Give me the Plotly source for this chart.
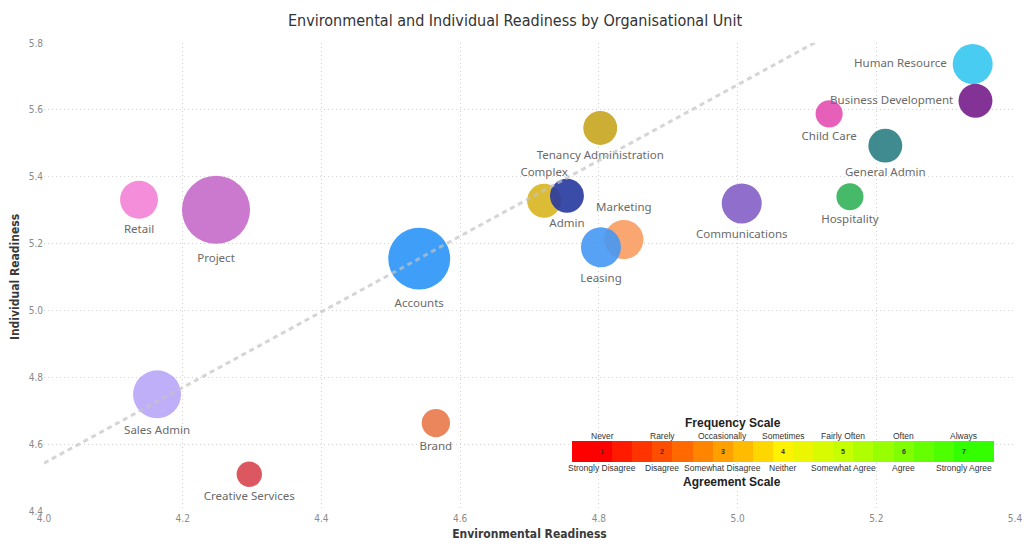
import plotly.graph_objects as go

# ---------------- data ----------------
units = ["Human Resource", "Business Development", "Child Care", "General Admin",
         "Hospitality", "Communications", "Tenancy Administration", "Complex",
         "Admin", "Marketing", "Leasing", "Accounts", "Project", "Retail",
         "Sales Admin", "Brand", "Creative Services"]
env_readiness = [5.339, 5.343, 5.132, 5.213, 5.162, 5.006, 4.802, 4.721,
                 4.754, 4.836, 4.803, 4.541, 4.248, 4.137, 4.163, 4.565, 4.296]
ind_readiness = [5.737, 5.627, 5.588, 5.493, 5.340, 5.320, 5.546, 5.328,
                 5.343, 5.212, 5.189, 5.155, 5.301, 5.331, 4.749, 4.663, 4.510]
respondents = [50, 36, 23, 36, 23, 50, 36, 36, 36, 48, 50, 120, 145, 45, 72, 25, 20]
unit_colors = ["#35C7F1", "#751C8A", "#E34FB2", "#2B7E84", "#33B25A", "#845EC6",
               "#C8A51E", "#D9B51F", "#26379F", "#F99C62", "#4598F3", "#2A94F6",
               "#C46AC9", "#F482D6", "#B8A6F8", "#E8784A", "#D8464F"]
label_pos = ["middle left", "middle left", "bottom center", "bottom center",
             "bottom center", "bottom center", "bottom center", "top center",
             "bottom center", "top center", "bottom center", "bottom center",
             "bottom center", "bottom center", "bottom center", "bottom center",
             "bottom center"]

# trend line (value at x=4.0 and slope)
trend_intercept = 4.543
trend_slope = 1.132
trend_x = [4.0, 5.4]

# legend scale
freq_labels = ["Never", "Rarely", "Occasionally", "Sometimes", "Fairly Often", "Often", "Always"]
agree_labels = ["Strongly Disagree", "Disagree", "Somewhat Disagree", "Neither",
                "Somewhat Agree", "Agree", "Strongly Agree"]
scale_numbers = ["1", "2", "3", "4", "5", "6", "7"]
scale_colors = ["#FF0000", "#FF4E00", "#FFA000", "#FFF200", "#C6FF00", "#80FF00", "#33FF00"]

x_ticks = [4.0, 4.2, 4.4, 4.6, 4.8, 5.0, 5.2, 5.4]
y_ticks = [4.4, 4.6, 4.8, 5.0, 5.2, 5.4, 5.6, 5.8]

# ---------------- figure ----------------
W, H = 1024, 554

fig = go.Figure()

fig.add_trace(go.Scatter(
    x=env_readiness, y=ind_readiness, mode="markers+text",
    text=units, textposition=label_pos,
    textfont=dict(family="Noto Sans, Open Sans, sans-serif", size=11.5, color="#6a6a6a"),
    marker=dict(size=respondents, sizemode="area", sizeref=1 / 16,
                color=unit_colors, opacity=0.9, line=dict(width=0)),
    cliponaxis=False, hoverinfo="skip", showlegend=False))

trend_y = [trend_intercept + trend_slope * (v - 4.0) for v in trend_x]
fig.add_trace(go.Scatter(
    x=trend_x, y=trend_y, mode="lines",
    line=dict(color="rgba(195,195,195,0.7)", width=3, dash="5px,4px"),
    hoverinfo="skip", showlegend=False))

# colour scale legend as a heatmap on its own axes
n_cells = 3 * len(scale_colors)
cs = [[0.0, scale_colors[0]]]
for k, c in enumerate(scale_colors):
    cs.append([(3 * k + 1) / (n_cells - 1), c])
cs.append([1.0, scale_colors[-1]])
fig.add_trace(go.Heatmap(
    z=[list(range(n_cells))], x=[i + 0.5 for i in range(n_cells)], y=[0.5],
    colorscale=cs, showscale=False, xaxis="x2", yaxis="y2", hoverinfo="skip",
    zmin=0, zmax=n_cells - 1))

grid = dict(showgrid=True, gridcolor="#d4d4d4", griddash="1px,3px", gridwidth=1,
            zeroline=False, showline=False, ticks="", automargin=False,
            ticklabeloverflow="allow")
tickfont = dict(family="DejaVu Sans Condensed, Roboto, sans-serif", size=10, color="#8a8a8a")
titlefont = dict(family="DejaVu Sans Condensed, Roboto, sans-serif", size=12, color="#3a3a3a")

PLOT_L, PLOT_R, PLOT_T, PLOT_B = 44, 1015, 43, 511  # pixels of plot area
PW, PH = PLOT_R - PLOT_L, PLOT_B - PLOT_T


def px_x(p):
    return (p - PLOT_L) / PW


def px_y(p):
    return (PLOT_B - p) / PH


fig.update_layout(
    width=W, height=H,
    margin=dict(l=PLOT_L, r=W - PLOT_R, t=PLOT_T, b=H - PLOT_B, autoexpand=False),
    paper_bgcolor="white", plot_bgcolor="white",
    hovermode=False,
    title=dict(text="Environmental and Individual Readiness by Organisational Unit",
               x=515 / W, xref="container", xanchor="center", y=1 - 20 / H, yanchor="middle",
               font=dict(family="DejaVu Sans Condensed, Roboto, sans-serif", size=16, color="#333333")),
    xaxis=dict(range=[4.0, 5.4], tickvals=x_ticks, ticktext=[f"{v:.1f}" for v in x_ticks],
               tickfont=tickfont, title=dict(text="<b>Environmental Readiness</b>", font=titlefont, standoff=6),
               **grid),
    yaxis=dict(range=[4.4, 5.8], tickvals=y_ticks, ticktext=[f"{v:.1f}" for v in y_ticks],
               tickfont=tickfont, title=dict(text="<b>Individual Readiness</b>", font=titlefont, standoff=6),
               **grid),
    xaxis2=dict(domain=[px_x(572), px_x(994)], range=[0, n_cells], anchor="y2",
                visible=False, fixedrange=True),
    yaxis2=dict(domain=[px_y(462), px_y(441)], range=[0, 1], anchor="x2",
                visible=False, fixedrange=True),
)

small = dict(family="Liberation Sans, Arial, sans-serif", size=8.5, color="#333")
ann = []
for k in range(len(scale_colors)):
    cx = px_x(572) + (3 * k + 1.5) / n_cells * (px_x(994) - px_x(572))
    ann.append(dict(x=cx, y=px_y(436), xref="paper", yref="paper", text=freq_labels[k],
                    showarrow=False, font=small, yanchor="middle", xanchor="center"))
    ann.append(dict(x=cx, y=px_y(468), xref="paper", yref="paper", text=agree_labels[k],
                    showarrow=False, font=small, yanchor="middle", xanchor="center"))
    ann.append(dict(x=cx, y=px_y(451.5), xref="paper", yref="paper", text=f"<b>{scale_numbers[k]}</b>",
                    showarrow=False, font=dict(family="Liberation Sans, Arial, sans-serif", size=7, color="#333"),
                    yanchor="middle", xanchor="center"))
mid = (px_x(572) + px_x(994)) / 2
ann.append(dict(x=mid, y=px_y(423), xref="paper", yref="paper", text="<b>Frequency Scale</b>", showarrow=False,
                font=dict(family="Liberation Sans, Arial, sans-serif", size=12, color="#222"), yanchor="middle"))
ann.append(dict(x=mid, y=px_y(482), xref="paper", yref="paper", text="<b>Agreement Scale</b>", showarrow=False,
                font=dict(family="Liberation Sans, Arial, sans-serif", size=12, color="#222"), yanchor="middle"))
fig.update_layout(annotations=ann)

# remove the default 8px page margin so the figure fills the window exactly
fig.write_html("out.html", config={"displayModeBar": False, "staticPlot": True},
               post_script="document.body.style.margin='0';")
